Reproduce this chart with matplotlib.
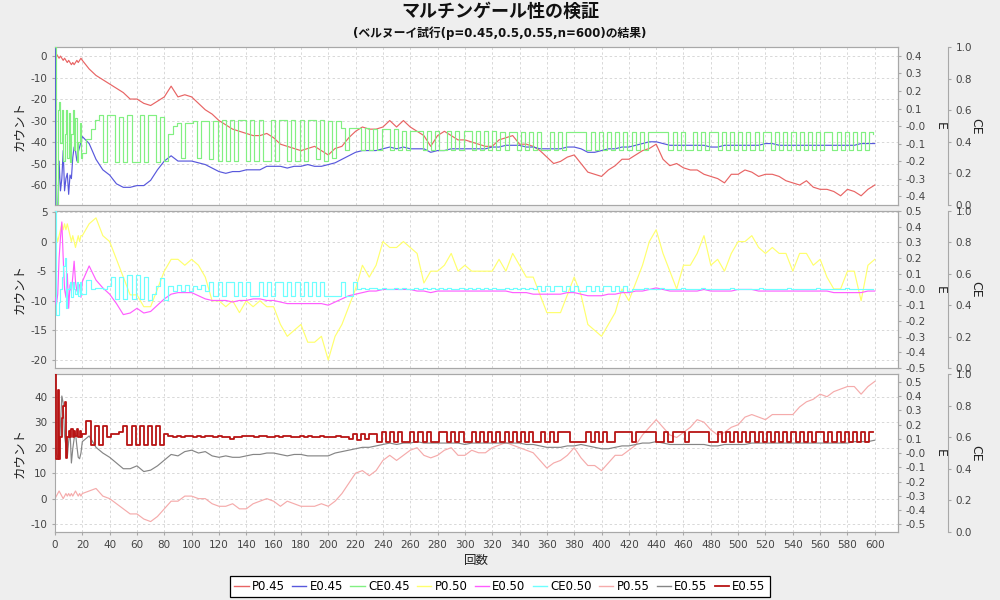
import numpy as np
import matplotlib
matplotlib.use('Agg')
import matplotlib.pyplot as plt
from matplotlib.ticker import MultipleLocator, FixedLocator, FormatStrFormatter
from matplotlib.lines import Line2D

plt.rcParams['font.family'] = ['DejaVu Sans', 'Noto Sans CJK JP']
plt.rcParams['axes.unicode_minus'] = False

# trial number: every step up to 19, then every 5th step (P and E series)
n = list(range(0, 20)) + list(range(20, 601, 5))
# CE series switch level often, so they are read on a finer grid
n_ce = list(range(0, 20)) + list(range(20, 601, 3))

# p = 0.45
p045 = [0, 1, 0, -1, 0, -1, -2, -1, -2, -3, -2, -3, -4, -3, -4, -3, -2, -3, -2, -1,
        -2, -6, -9, -11, -13, -15, -17, -20, -20, -22,
        -23, -21, -19, -14, -19, -18, -19, -22, -25, -27,
        -30, -32, -34, -35, -36, -37, -37, -36, -38, -41,
        -42, -43, -44, -43, -42, -44, -46, -43, -42, -38,
        -35, -33, -34, -34, -33, -30, -33, -30, -33, -35,
        -37, -42, -37, -35, -37, -39, -39, -40, -41, -42,
        -42, -39, -38, -37, -41, -41, -42, -44, -47, -50,
        -49, -47, -46, -50, -54, -55, -56, -53, -51, -48,
        -48, -46, -44, -43, -41, -48, -51, -50, -52, -53,
        -53, -55, -56, -57, -59, -55, -55, -53, -54, -56,
        -55, -55, -56, -58, -59, -60, -58, -61, -62, -62,
        -63, -65, -62, -63, -65, -62, -60]
e045 = [1.0, -1.0, -0.5, -0.2, -0.37, -0.3, -0.14, -0.37, -0.3, -0.27,
        -0.39, -0.28, -0.3, -0.18, -0.12, -0.14, -0.2, -0.15, -0.12, -0.09,
        -0.06, -0.1, -0.19, -0.25, -0.28, -0.33, -0.35, -0.35, -0.34, -0.34,
        -0.31, -0.25, -0.2, -0.17, -0.2, -0.2, -0.2, -0.21, -0.22, -0.24,
        -0.26, -0.27, -0.26, -0.26, -0.25, -0.25, -0.25, -0.23, -0.23, -0.23,
        -0.24, -0.23, -0.23, -0.22, -0.23, -0.23, -0.22, -0.21, -0.19, -0.17,
        -0.15, -0.14, -0.14, -0.14, -0.13, -0.12, -0.13, -0.12, -0.13, -0.13,
        -0.13, -0.15, -0.14, -0.14, -0.13, -0.13, -0.13, -0.13, -0.13, -0.13,
        -0.12, -0.12, -0.11, -0.11, -0.11, -0.12, -0.12, -0.13, -0.13, -0.13,
        -0.13, -0.12, -0.12, -0.13, -0.15, -0.15, -0.14, -0.13, -0.13, -0.12,
        -0.12, -0.11, -0.1, -0.09, -0.09, -0.1, -0.11, -0.11, -0.11, -0.11,
        -0.11, -0.11, -0.12, -0.12, -0.11, -0.11, -0.11, -0.11, -0.11, -0.11,
        -0.1, -0.1, -0.11, -0.11, -0.11, -0.11, -0.11, -0.11, -0.11, -0.11,
        -0.11, -0.11, -0.11, -0.11, -0.1, -0.1, -0.1]
ce045 = [1.0, 0.0, 0.6, 0.65, 0.39, 0.6, 0.28, 0.45, 0.6, 0.3,
         0.58, 0.27, 0.45, 0.6, 0.35, 0.55, 0.27, 0.4, 0.52, 0.3,
         0.33, 0.42, 0.48, 0.54,
         0.57, 0.27, 0.57, 0.57, 0.27, 0.56, 0.27, 0.57, 0.27, 0.27,
         0.57, 0.27, 0.57, 0.57, 0.27, 0.56, 0.28,
         0.45, 0.5, 0.52, 0.3, 0.52,
         0.52, 0.53, 0.3, 0.53, 0.53, 0.29, 0.53, 0.28,
         0.54, 0.28, 0.54, 0.28, 0.54, 0.54, 0.28, 0.54, 0.28, 0.54,
         0.28, 0.28, 0.54, 0.28, 0.54, 0.54, 0.28, 0.54, 0.28, 0.54,
         0.28, 0.54, 0.54, 0.29, 0.54, 0.28, 0.53, 0.3, 0.53,
         0.49, 0.35, 0.49, 0.49, 0.49, 0.35, 0.49, 0.35, 0.48, 0.35,
         0.48, 0.48, 0.35, 0.48, 0.35, 0.47, 0.35, 0.47,
         0.47, 0.47, 0.35, 0.47, 0.35, 0.47, 0.35, 0.35, 0.47, 0.35,
         0.47, 0.35, 0.47, 0.47, 0.35, 0.47, 0.35, 0.47, 0.35, 0.47,
         0.35, 0.46, 0.35, 0.46, 0.46, 0.35, 0.46, 0.35, 0.46, 0.35,
         0.46, 0.35, 0.35, 0.46, 0.35, 0.46, 0.35, 0.46, 0.46, 0.46,
         0.46, 0.46, 0.35, 0.46, 0.35, 0.46, 0.35, 0.46, 0.35, 0.46,
         0.35, 0.46, 0.35, 0.46, 0.35, 0.46, 0.35, 0.46, 0.46, 0.46,
         0.46, 0.46, 0.35, 0.46, 0.35, 0.46, 0.35, 0.35, 0.46, 0.35,
         0.46, 0.35, 0.46, 0.46, 0.35, 0.46, 0.35, 0.46, 0.35, 0.46,
         0.35, 0.46, 0.35, 0.46, 0.35, 0.46, 0.46, 0.35, 0.46, 0.35,
         0.46, 0.35, 0.46, 0.35, 0.46, 0.35, 0.46, 0.35, 0.46, 0.35,
         0.46, 0.46, 0.35, 0.46, 0.35, 0.46, 0.35, 0.46, 0.35, 0.46,
         0.35, 0.46, 0.45]

# p = 0.50
p050 = [0, 1, 0, 1, 2, 3, 2, 3, 2, 3, 2, 1, 0, 1, 0, -1, 0, 1, 0, 1,
        1, 3, 4, 1, 0, -3, -6, -9, -9, -11,
        -11, -8, -5, -3, -3, -4, -3, -4, -6, -10,
        -10, -11, -10, -12, -10, -11, -10, -11, -11, -14,
        -16, -15, -14, -17, -17, -16, -20, -16, -14, -11,
        -8, -4, -6, -4, 0, -1, -1, 0, -1, -2,
        -7, -5, -5, -4, -2, -5, -4, -5, -5, -5,
        -5, -3, -5, -2, -4, -6, -6, -9, -12, -12,
        -12, -9, -6, -9, -14, -15, -16, -14, -12, -8,
        -10, -7, -4, 0, 2, -2, -5, -8, -4, -4,
        -2, 1, -4, -3, -5, -2, 0, 0, 1, -1,
        -2, -1, -2, -2, -5, -2, -2, -4, -3, -6,
        -8, -8, -5, -5, -10, -4, -3]
e050 = [-0.05, -0.1, -0.03, 0.2, 0.33, 0.43, 0.2, 0.0, -0.05, 0.1,
        -0.12, 0.03, -0.01, 0.08, 0.18, 0.05, -0.01, 0.03, 0.03, -0.05,
        0.05, 0.15, 0.06, 0.01, -0.03, -0.09, -0.16, -0.15, -0.12, -0.15,
        -0.14, -0.1, -0.06, -0.03, -0.02, -0.02, -0.02, -0.04, -0.06, -0.07,
        -0.07, -0.07, -0.08, -0.07, -0.07, -0.06, -0.06, -0.07, -0.07, -0.08,
        -0.09, -0.09, -0.09, -0.09, -0.09, -0.09, -0.1, -0.08, -0.06, -0.04,
        -0.03, -0.02, -0.01, -0.01, 0.0, 0.0, 0.0, 0.0, 0.0, -0.01,
        -0.01, -0.02, -0.01, -0.01, -0.01, -0.01, -0.01, -0.01, -0.01, -0.01,
        -0.01, -0.01, -0.01, -0.02, -0.02, -0.02, -0.03, -0.03, -0.03, -0.03,
        -0.03, -0.02, -0.02, -0.03, -0.04, -0.04, -0.04, -0.03, -0.03, -0.02,
        -0.02, -0.01, -0.01, 0.0, 0.01, 0.0, -0.01, -0.01, -0.01, -0.01,
        -0.01, 0.0, -0.01, -0.01, -0.01, -0.01, 0.0, 0.0, 0.0, -0.01,
        -0.01, -0.01, -0.01, -0.01, -0.01, -0.01, -0.01, -0.01, -0.01, -0.01,
        -0.02, -0.02, -0.02, -0.02, -0.02, -0.01, -0.01]
ce050 = [1.0, 0.34, 0.34, 0.42, 0.5, 0.58, 0.65, 0.7, 0.38, 0.5,
         0.51, 0.55, 0.45, 0.55, 0.5, 0.47, 0.55, 0.46, 0.55, 0.47,
         0.47, 0.56, 0.5, 0.51, 0.51, 0.5, 0.52, 0.58, 0.44, 0.58,
         0.44, 0.59, 0.44, 0.59,
         0.44, 0.58, 0.43, 0.47, 0.52, 0.57, 0.43,
         0.52, 0.49, 0.53, 0.49, 0.53, 0.49, 0.52, 0.5, 0.53, 0.49,
         0.55, 0.46, 0.55, 0.46, 0.55, 0.55, 0.46, 0.55, 0.46, 0.55,
         0.46, 0.46, 0.55, 0.46, 0.55, 0.46, 0.55, 0.55, 0.46, 0.55,
         0.46, 0.55, 0.46, 0.55, 0.46, 0.55, 0.46, 0.55, 0.46, 0.46,
         0.46, 0.46, 0.55, 0.46, 0.46, 0.55,
         0.5, 0.51, 0.5, 0.51, 0.51, 0.5, 0.51, 0.5, 0.5, 0.51,
         0.5, 0.51, 0.5, 0.5, 0.51, 0.5, 0.51, 0.5, 0.51, 0.5,
         0.51, 0.5, 0.51, 0.5, 0.5, 0.51, 0.5, 0.51, 0.5, 0.51,
         0.5, 0.51, 0.5, 0.51, 0.5, 0.5, 0.51, 0.5, 0.51, 0.5,
         0.51, 0.5, 0.51, 0.5,
         0.52, 0.49, 0.52, 0.49, 0.52, 0.52, 0.49, 0.52, 0.49, 0.52,
         0.49, 0.49, 0.52, 0.49, 0.52, 0.49, 0.52, 0.52, 0.49, 0.52,
         0.49, 0.52, 0.49, 0.5,
         0.5, 0.5, 0.51, 0.5, 0.5, 0.5, 0.51, 0.5, 0.5, 0.5,
         0.5, 0.51, 0.5, 0.5, 0.5, 0.5, 0.51, 0.5, 0.5, 0.5,
         0.5, 0.5, 0.5, 0.51, 0.5, 0.5, 0.5, 0.5, 0.5, 0.5,
         0.51, 0.5, 0.5, 0.5, 0.5, 0.5, 0.5, 0.51, 0.5, 0.5,
         0.5, 0.5, 0.5, 0.5, 0.51, 0.5, 0.5, 0.5, 0.5, 0.5,
         0.5, 0.51, 0.5, 0.5, 0.5, 0.5, 0.5, 0.5, 0.5]

# p = 0.55
p055 = [0, 1, 2, 3, 2, 1, 0, 1, 2, 1, 2, 1, 2, 1, 2, 3, 2, 1, 2, 1,
        2, 3, 4, 1, 0, -2, -4, -6, -6, -8,
        -9, -7, -4, -1, -1, 1, 1, 0, 0, -2,
        -3, -3, -2, -4, -4, -2, -1, 0, -1, -3,
        -1, -2, -3, -3, -3, -2, -3, -1, 2, 6,
        10, 11, 9, 11, 15, 17, 15, 17, 19, 20,
        17, 16, 17, 19, 20, 17, 17, 19, 18, 18,
        20, 21, 22, 21, 20, 19, 18, 15, 12, 14,
        15, 17, 20, 16, 13, 13, 11, 14, 17, 17,
        19, 21, 25, 28, 31, 28, 25, 24, 26, 28,
        31, 30, 27, 25, 26, 28, 29, 32, 33, 32,
        31, 33, 33, 33, 33, 36, 38, 39, 41, 40,
        42, 43, 44, 44, 41, 44, 46]
e055 = [1.0, 0.0, -0.03, -0.02, 0.2, 0.4, 0.35, 0.12, 0.05, -0.03,
        0.08, 0.16, -0.07, 0.03, 0.1, 0.14, 0.05, -0.03, -0.04, 0.0,
        0.08, 0.12, 0.04, 0.0, -0.03, -0.07, -0.11, -0.11, -0.09, -0.13,
        -0.12, -0.09, -0.05, -0.01, -0.02, 0.01, 0.02, 0.0, 0.01, -0.02,
        -0.03, -0.02, -0.03, -0.03, -0.02, -0.01, -0.01, 0.0, 0.0, -0.01,
        -0.02, -0.01, -0.01, -0.02, -0.02, -0.02, -0.02, 0.0, 0.01, 0.02,
        0.03, 0.04, 0.04, 0.05, 0.06, 0.07, 0.06, 0.07, 0.07, 0.08,
        0.07, 0.07, 0.07, 0.07, 0.07, 0.07, 0.06, 0.07, 0.07, 0.07,
        0.07, 0.07, 0.07, 0.07, 0.07, 0.06, 0.06, 0.05, 0.04, 0.04,
        0.04, 0.05, 0.05, 0.06, 0.05, 0.04, 0.03, 0.03, 0.04, 0.05,
        0.05, 0.06, 0.07, 0.07, 0.08, 0.07, 0.06, 0.06, 0.06, 0.06,
        0.06, 0.06, 0.05, 0.05, 0.06, 0.06, 0.06, 0.06, 0.07, 0.07,
        0.07, 0.07, 0.07, 0.07, 0.07, 0.07, 0.07, 0.07, 0.07, 0.07,
        0.07, 0.07, 0.07, 0.08, 0.08, 0.08, 0.09]
ce055 = [1.0, 0.46, 0.9, 0.46, 0.6, 0.72, 0.8, 0.82, 0.47, 0.6,
         0.64, 0.6, 0.65, 0.6, 0.64, 0.61, 0.65, 0.6, 0.64, 0.6,
         0.62, 0.7, 0.55, 0.67, 0.55, 0.67, 0.6, 0.62, 0.62, 0.63,
         0.67, 0.55, 0.67, 0.55, 0.67, 0.55, 0.67, 0.55, 0.67, 0.55,
         0.62,
         0.61, 0.6, 0.61, 0.6, 0.61, 0.61, 0.6, 0.61, 0.6, 0.61,
         0.61, 0.6, 0.61, 0.6, 0.6, 0.59, 0.6, 0.6, 0.61, 0.61,
         0.61, 0.6, 0.61, 0.61, 0.6, 0.6, 0.61, 0.6, 0.61, 0.61,
         0.6, 0.6, 0.61, 0.6, 0.61, 0.6, 0.6, 0.61, 0.6, 0.6,
         0.6, 0.61, 0.6, 0.6, 0.59,
         0.62, 0.58, 0.62, 0.59, 0.62, 0.62, 0.57, 0.63, 0.57, 0.63,
         0.57, 0.63, 0.57, 0.57, 0.63, 0.57, 0.63, 0.57, 0.63, 0.57,
         0.57, 0.63, 0.63, 0.57, 0.63, 0.57, 0.63, 0.57, 0.57, 0.63,
         0.57, 0.63, 0.57, 0.63, 0.57, 0.63, 0.57, 0.63, 0.57, 0.63,
         0.57, 0.63, 0.57, 0.63, 0.57, 0.57, 0.63, 0.57, 0.63, 0.57,
         0.63, 0.63, 0.63, 0.57, 0.57, 0.57, 0.57, 0.63, 0.57, 0.63,
         0.57, 0.63, 0.57, 0.57, 0.63, 0.63, 0.63, 0.63, 0.57, 0.63,
         0.63, 0.63, 0.63, 0.63, 0.57, 0.57, 0.63, 0.57, 0.63, 0.63,
         0.63, 0.57, 0.63, 0.63, 0.63, 0.63, 0.63, 0.57, 0.57, 0.63,
         0.57, 0.63, 0.57, 0.63, 0.57, 0.63, 0.57, 0.63, 0.57, 0.63,
         0.57, 0.63, 0.57, 0.63, 0.57, 0.63, 0.57, 0.63, 0.57, 0.63,
         0.57, 0.63, 0.57, 0.63, 0.63, 0.57, 0.63, 0.57, 0.63, 0.57,
         0.63, 0.57, 0.63, 0.57, 0.63, 0.57, 0.63, 0.63]

for s in [p045, e045, p050, e050, p055, e055]:
    assert len(s) == len(n), len(s)
for s in [ce045, ce050, ce055]:
    assert len(s) == len(n_ce), len(s)

labels = ['P0.45', 'E0.45', 'CE0.45', 'P0.50', 'E0.50', 'CE0.50', 'P0.55', 'E0.55', 'E0.55']
colors = ['#E86464', '#5858DC', '#82F082', '#FFFF6E', '#FF5CFF', '#6EFFFF',
          '#F5ABAB', '#858585', '#B81414']

panels = [
    dict(p=p045, e=e045, ce=ce045, c=colors[0:3], ylim=(-69.3, 4.2), yt=range(-60, 1, 10),
         elim=(-0.451, 0.451), et=np.round(np.arange(-0.4, 0.41, 0.1), 1)),
    dict(p=p050, e=e050, ce=ce050, c=colors[3:6], ylim=(-21.35, 5.17), yt=range(-20, 6, 5),
         elim=(-0.5, 0.5), et=np.round(np.arange(-0.5, 0.51, 0.1), 1)),
    dict(p=p055, e=e055, ce=ce055, c=colors[6:9], ylim=(-13.1, 48.9), yt=range(-10, 41, 10),
         elim=(-0.554, 0.554), et=np.round(np.arange(-0.5, 0.51, 0.1), 1)),
]
rects = [[0.055, 0.6583, 0.843, 0.2633],
         [0.055, 0.3867, 0.843, 0.2617],
         [0.055, 0.1133, 0.843, 0.2633]]

fig = plt.figure(figsize=(10, 6), dpi=100, facecolor='#EEEEEE')
spine_c = '#A8A8A8'
tick_c = '#444444'
lw = 0.85

for i, (pn, rect) in enumerate(zip(panels, rects)):
    ax = fig.add_axes(rect)
    ax.set_facecolor('white')
    ax.plot(n, pn['p'], color=pn['c'][0], lw=lw)
    axe = ax.twinx()
    axe.plot(n, pn['e'], color=pn['c'][1], lw=lw)
    axc = ax.twinx()
    # CE jumps between two levels, so draw it as a step line
    axc.plot(n_ce, pn['ce'], color=pn['c'][2], lw=1.3 if i == 2 else lw, drawstyle='steps-post')
    axc.spines['right'].set_position(('outward', 36))

    ax.set_xlim(0, 617)
    ax.set_ylim(*pn['ylim'])
    axe.set_ylim(*pn['elim'])
    axc.set_ylim(0, 1)

    ax.xaxis.set_major_locator(MultipleLocator(20))
    ax.yaxis.set_major_locator(FixedLocator(list(pn['yt'])))
    axe.yaxis.set_major_locator(FixedLocator(list(pn['et'])))
    axc.yaxis.set_major_locator(FixedLocator([0, 0.2, 0.4, 0.6, 0.8, 1.0]))
    axe.yaxis.set_major_formatter(FormatStrFormatter('%.1f'))
    axc.yaxis.set_major_formatter(FormatStrFormatter('%.1f'))

    ax.set_axisbelow(True)
    ax.grid(True, color='#D8D8D8', lw=0.7, ls=(0, (2.5, 2.5)))

    for a in (ax, axe, axc):
        for s in a.spines.values():
            s.set_color(spine_c)
        a.tick_params(colors=spine_c, labelcolor=tick_c, labelsize=7.5, length=2, width=0.8)
    for s in ('top', 'bottom', 'left'):
        axc.spines[s].set_visible(False)
    axe.spines['left'].set_visible(False)

    if i < 2:
        ax.tick_params(axis='x', labelbottom=False, length=0)
    else:
        ax.set_xlabel('回数', fontsize=9, color='#222222', labelpad=3)

    ax.set_ylabel('カウント', fontsize=9, color='#222222')
    ax.yaxis.set_label_coords(-0.034, 0.5)
    axe.set_ylabel('E', fontsize=9, color='#222222', rotation=-90, va='center')
    axe.yaxis.set_label_coords(1.05, 0.5)
    axc.set_ylabel('CE', fontsize=9, color='#222222', rotation=-90, va='center')
    axc.yaxis.set_label_coords(1.092, 0.5)

fig.text(0.5, 1 - 12 / 600, 'マルチンゲール性の検証', ha='center', va='center',
         fontsize=13, fontweight='bold', color='#111111')
fig.text(0.5, 1 - 33 / 600, '(ベルヌーイ試行(p=0.45,0.5,0.55,n=600)の結果)', ha='center',
         va='center', fontsize=8.5, fontweight='bold', color='#111111')

handles = [Line2D([], [], color=c, lw=1.3 if k == 8 else 1.0) for k, c in enumerate(colors)]
leg = fig.legend(handles, labels, loc='center', bbox_to_anchor=(0.5, 1 - 586.5 / 600), ncol=9,
                 fontsize=8.5, frameon=True, fancybox=False, edgecolor='black',
                 facecolor='white', framealpha=1, handlelength=1.2, handletextpad=0.3,
                 columnspacing=0.6, borderpad=0.35, borderaxespad=0)
leg.get_frame().set_linewidth(0.9)

fig.savefig('out.png', dpi=100, facecolor=fig.get_facecolor())
